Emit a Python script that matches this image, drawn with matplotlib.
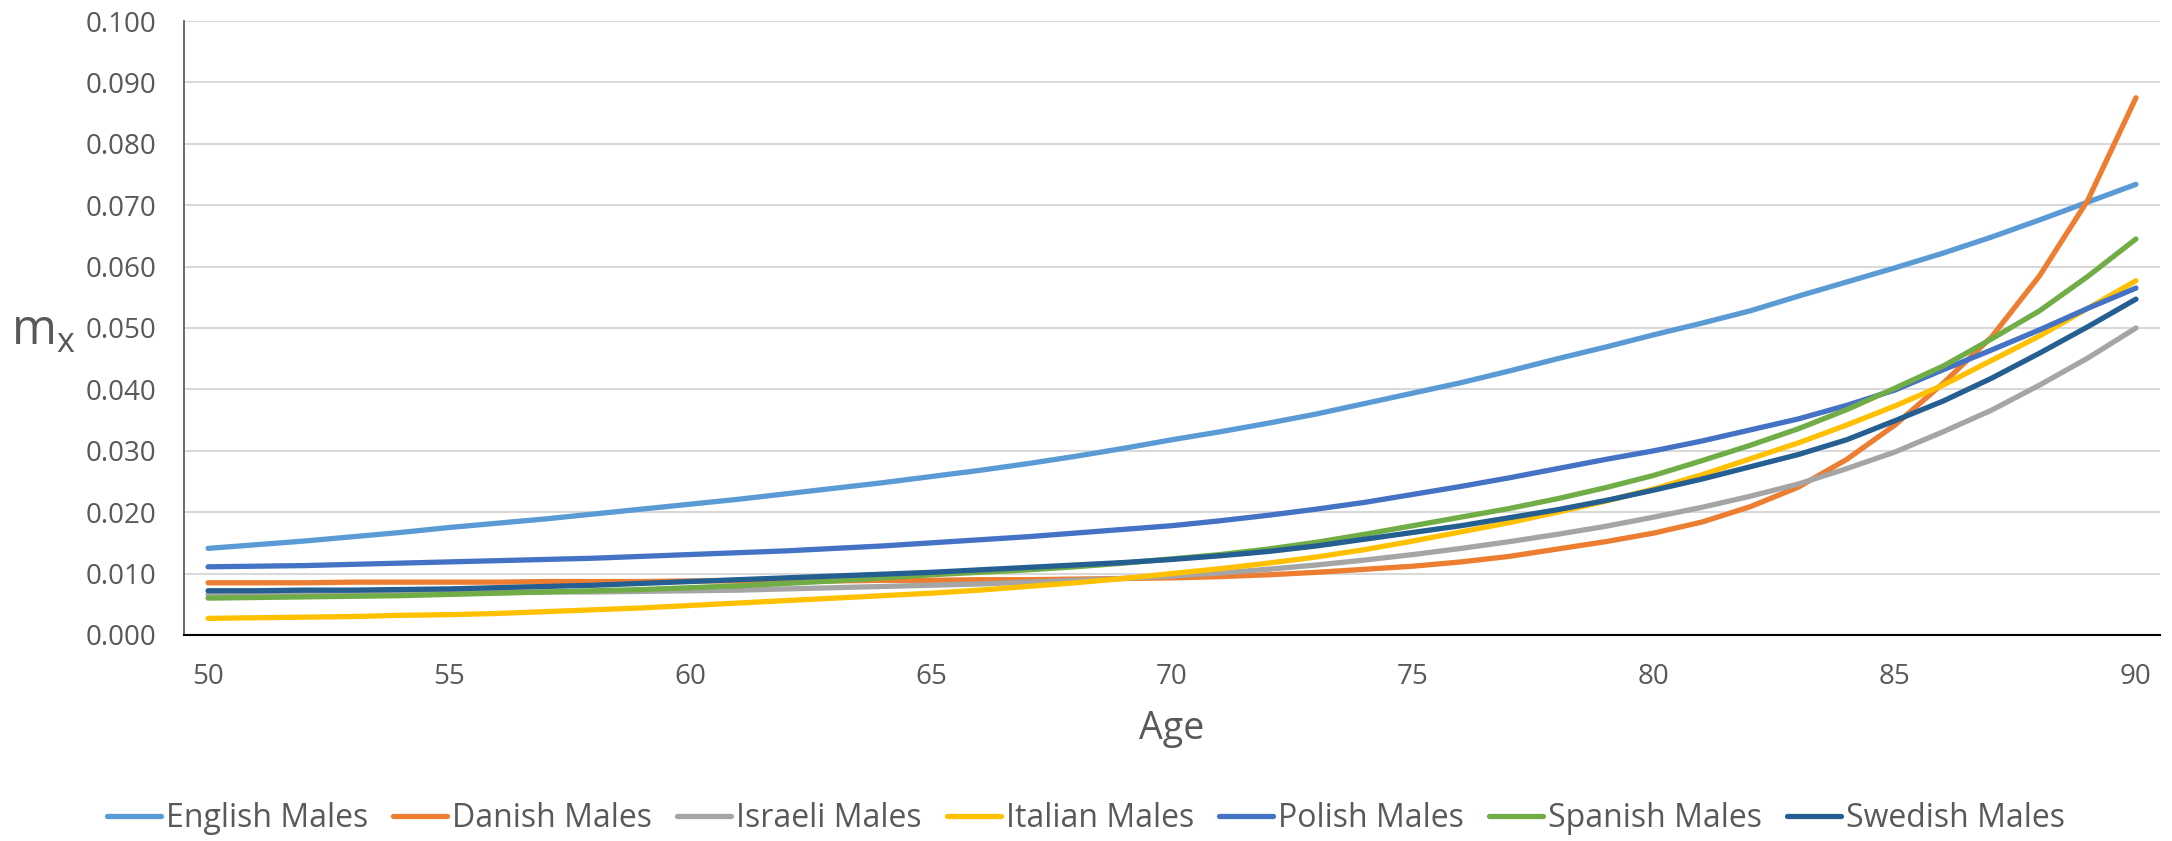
import matplotlib
matplotlib.use("Agg")
import matplotlib.pyplot as plt

plt.rcParams['font.family'] = ['Open Sans', 'DejaVu Sans']

ages = list(range(50, 91))

english = [0.0141, 0.0147, 0.0153, 0.0160, 0.0167, 0.0175, 0.0182, 0.0189, 0.0197, 0.0205,
           0.0213, 0.0221, 0.0230, 0.0239, 0.0248, 0.0258, 0.0268, 0.0279, 0.0291, 0.0304,
           0.0318, 0.0331, 0.0345, 0.0360, 0.0377, 0.0394, 0.0411, 0.0430, 0.0450, 0.0469,
           0.0489, 0.0508, 0.0528, 0.0552, 0.0575, 0.0598, 0.0622, 0.0648, 0.0676, 0.0705,
           0.0734]
danish = [0.0085, 0.0085, 0.0085, 0.0086, 0.0086, 0.0086, 0.0086, 0.0087, 0.0087, 0.0087,
          0.0088, 0.0088, 0.0088, 0.0088, 0.0089, 0.0089, 0.0090, 0.0090, 0.0091, 0.0092,
          0.0093, 0.0095, 0.0098, 0.0102, 0.0107, 0.0112, 0.0119, 0.0128, 0.0140, 0.0152,
          0.0166, 0.0184, 0.0209, 0.0241, 0.0286, 0.0342, 0.0410, 0.0485, 0.0585, 0.0708,
          0.0875]
israeli = [0.0066, 0.0066, 0.0067, 0.0067, 0.0068, 0.0068, 0.0069, 0.0070, 0.0070, 0.0071,
           0.0072, 0.0073, 0.0075, 0.0077, 0.0079, 0.0081, 0.0083, 0.0086, 0.0089, 0.0092,
           0.0096, 0.0101, 0.0107, 0.0114, 0.0122, 0.0131, 0.0141, 0.0152, 0.0164, 0.0177,
           0.0192, 0.0208, 0.0226, 0.0246, 0.0271, 0.0298, 0.0331, 0.0366, 0.0407, 0.0451,
           0.0500]
italian = [0.0027, 0.0028, 0.0029, 0.0030, 0.0032, 0.0033, 0.0035, 0.0038, 0.0041, 0.0044,
           0.0048, 0.0052, 0.0056, 0.0060, 0.0064, 0.0068, 0.0073, 0.0079, 0.0085, 0.0092,
           0.0100, 0.0108, 0.0117, 0.0127, 0.0139, 0.0153, 0.0168, 0.0183, 0.0200, 0.0218,
           0.0238, 0.0261, 0.0287, 0.0313, 0.0342, 0.0373, 0.0407, 0.0447, 0.0487, 0.0532,
           0.0577]
polish = [0.0111, 0.0112, 0.0113, 0.0115, 0.0117, 0.0119, 0.0121, 0.0123, 0.0125, 0.0128,
          0.0131, 0.0134, 0.0137, 0.0141, 0.0145, 0.0150, 0.0155, 0.0160, 0.0166, 0.0172,
          0.0178, 0.0186, 0.0195, 0.0205, 0.0216, 0.0229, 0.0242, 0.0256, 0.0271, 0.0286,
          0.0300, 0.0316, 0.0334, 0.0352, 0.0374, 0.0399, 0.0432, 0.0464, 0.0497, 0.0532,
          0.0565]
spanish = [0.0060, 0.0061, 0.0062, 0.0063, 0.0064, 0.0066, 0.0068, 0.0070, 0.0072, 0.0074,
           0.0077, 0.0080, 0.0084, 0.0088, 0.0093, 0.0098, 0.0102, 0.0106, 0.0111, 0.0117,
           0.0124, 0.0131, 0.0140, 0.0151, 0.0164, 0.0178, 0.0192, 0.0206, 0.0222, 0.0240,
           0.0260, 0.0284, 0.0309, 0.0336, 0.0367, 0.0402, 0.0438, 0.0482, 0.0528, 0.0584,
           0.0645]
swedish = [0.0072, 0.0072, 0.0073, 0.0073, 0.0074, 0.0075, 0.0077, 0.0079, 0.0081, 0.0084,
           0.0087, 0.0090, 0.0093, 0.0096, 0.0099, 0.0102, 0.0106, 0.0110, 0.0114, 0.0118,
           0.0123, 0.0129, 0.0136, 0.0145, 0.0156, 0.0167, 0.0178, 0.0191, 0.0204, 0.0219,
           0.0236, 0.0254, 0.0274, 0.0294, 0.0318, 0.0349, 0.0381, 0.0418, 0.0459, 0.0502,
           0.0547]

series = [
    ("English Males", english, "#5B9BD5"),
    ("Danish Males", danish, "#ED7D31"),
    ("Israeli Males", israeli, "#A5A5A5"),
    ("Italian Males", italian, "#FFC000"),
    ("Polish Males", polish, "#4472C4"),
    ("Spanish Males", spanish, "#70AD47"),
    ("Swedish Males", swedish, "#255E91"),
]

text_color = "#595959"

fig = plt.figure(figsize=(21.72, 8.41), dpi=100)
ax = fig.add_axes([0.0847, 0.245, 0.9098, 0.730])

for name, vals, color in series:
    ax.plot(ages, vals, color=color, lw=3.8, label=name, solid_capstyle='round')

ax.set_xlim(49.5, 90.5)
ax.set_ylim(0, 0.1)
ax.set_xticks(range(50, 91, 5))
ax.set_yticks([i / 100 for i in range(11)])
ax.set_yticklabels([f"{i / 100:.3f}" for i in range(11)])
ax.tick_params(axis='both', length=0, labelsize=20, colors=text_color)
ax.tick_params(axis='x', pad=20)
ax.tick_params(axis='y', pad=20)

ax.grid(axis='y', color="#D9D9D9", lw=1.5)
ax.set_axisbelow(True)
for side in ['top', 'right']:
    ax.spines[side].set_visible(False)
ax.spines['left'].set_color("#44546A")
ax.spines['left'].set_linewidth(1.2)
ax.spines['bottom'].set_color("#000000")
ax.spines['bottom'].set_linewidth(1.5)

ax.set_xlabel("Age", fontsize=27, color=text_color, labelpad=14)
fig.text(0.005, 0.605, r"m$_{\mathregular{x}}$", fontsize=35, color=text_color,
         ha='left', va='center')

fig.legend(loc='center', bbox_to_anchor=(0.5, 0.027), ncol=7, frameon=False,
           fontsize=23, handlelength=1.7, handletextpad=0.15, columnspacing=0.78,
           labelcolor=text_color)

fig.savefig("out.png", dpi=100)
